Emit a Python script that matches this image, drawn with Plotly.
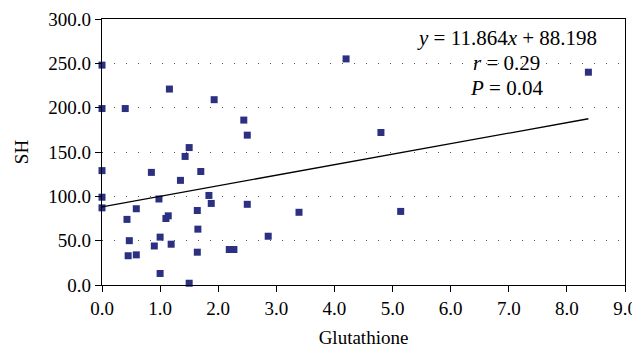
import plotly.graph_objects as go

glutathione = [0, 0, 0.40, 1.16, 1.93, 2.44, 2.50, 1.50,
               0, 1.43, 0.85, 1.70, 1.35, 0, 0.98, 1.84, 1.88, 2.50,
               0, 0.59, 0.43, 1.64, 1.10, 1.14, 1.65, 0.47, 1.00, 0.90,
               1.19, 0.45, 0.59, 1.64, 2.19, 2.27, 2.86, 1.00, 1.50,
               4.20, 8.37, 4.80, 3.39, 5.14]
sh = [248, 199, 199, 221, 209, 186, 169, 155,
      129, 145, 127, 128, 118, 99, 97, 101, 92, 91,
      87, 86, 74, 84, 75, 78, 63, 50, 54, 44,
      46, 33, 34, 37, 40, 40, 55, 13, 2,
      255, 240, 172, 82, 83]

slope = 11.864
intercept = 88.198
stat_lines = ["<i>y</i> = 11.864<i>x</i> + 88.198", "<i>r</i> = 0.29", "<i>P</i> = 0.04"]

x_ticks = [0, 1, 2, 3, 4, 5, 6, 7, 8, 9]
y_ticks = [0, 50, 100, 150, 200, 250, 300]

FONT = "Liberation Serif"
fig = go.Figure()
fig.add_trace(go.Scatter(
    x=glutathione, y=sh, mode="markers",
    marker=dict(symbol="square", size=7, color="#2B3080"),
    showlegend=False, hoverinfo="skip", cliponaxis=False))

xs = [0, max(glutathione)]
fig.add_trace(go.Scatter(
    x=xs, y=[slope * v + intercept for v in xs], mode="lines",
    line=dict(color="black", width=1.3), showlegend=False, hoverinfo="skip"))

for txt, yp in zip(stat_lines, [0.93, 0.835, 0.74]):
    fig.add_annotation(xref="paper", yref="paper", x=0.774, y=yp, text=txt,
                       showarrow=False, xanchor="center", yanchor="middle",
                       font=dict(family=FONT, size=21, color="black"))

fig.update_layout(
    width=632, height=340,
    margin=dict(l=94, r=15, t=11, b=63),
    paper_bgcolor="white", plot_bgcolor="white",
    font=dict(family=FONT, size=19, color="black"),
)
fig.update_xaxes(
    range=[0, 9], tickvals=x_ticks, ticktext=[f"{v:.1f}" for v in x_ticks],
    automargin=False,
    showgrid=False, zeroline=False,
    showline=True, linecolor="black", linewidth=1.3, mirror=True,
    ticks="outside", ticklen=6, tickcolor="black",
    tickfont=dict(family=FONT, size=19),
    title=dict(text="Glutathione", standoff=22, font=dict(family=FONT, size=19)),
)
fig.update_yaxes(
    range=[0, 300], tickvals=y_ticks, ticktext=[f"{v:.1f}" for v in y_ticks],
    automargin=False,
    showgrid=True, gridcolor="#555555", gridwidth=1, griddash="1px,11px",
    zeroline=False,
    showline=True, linecolor="black", linewidth=1.3, mirror=True,
    ticks="outside", ticklen=6, tickcolor="black",
    tickfont=dict(family=FONT, size=19),
    title=dict(text="SH", standoff=14, font=dict(family=FONT, size=19)),
)

fig.write_html("out.html")
